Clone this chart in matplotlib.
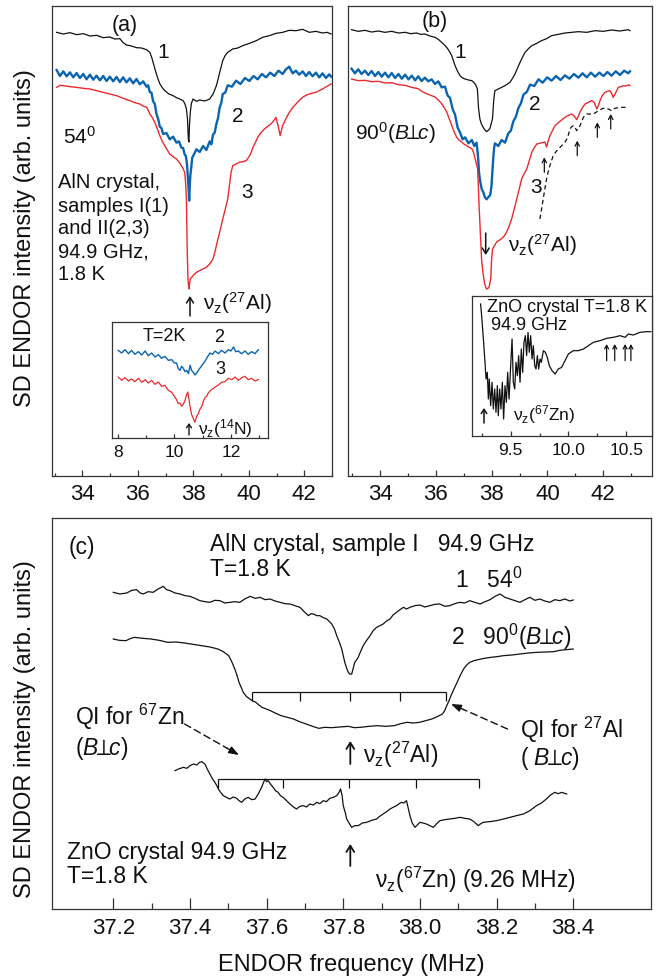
import numpy as np
import matplotlib
matplotlib.use("Agg")
import matplotlib.pyplot as plt
from matplotlib.patches import FancyArrowPatch

# ---------------- data (frequency MHz, intensity arb. units) ----------------
# panel (a): AlN, 54 deg
A1 = [(33.07,1331),(33.31,1326),(33.55,1330),(33.79,1324),(34.03,1327),(34.27,1320),(34.51,1322),(34.75,1315),
      (34.99,1317),(35.17,1311),(35.35,1312),(35.47,1300),(35.59,1293),(35.77,1290),(35.95,1285),(36.13,1284),
      (36.31,1279),(36.43,1271),(36.49,1258),(36.55,1241),(36.61,1222),(36.67,1206),(36.73,1190),(36.79,1177),
      (36.88,1165),(36.97,1156),(37.12,1146),(37.27,1141),(37.39,1135),(37.51,1131),(37.63,1126),(37.69,1118),
      (37.75,1101),(37.79,1070),(37.82,1010),(37.84,1002),(37.86,1050),(37.89,1091),(37.93,1118),(37.99,1131),
      (38.11,1124),(38.23,1128),(38.41,1125),(38.59,1131),(38.71,1146),(38.77,1158),(38.83,1171),(38.89,1190),
      (38.95,1211),(39.01,1230),(39.06,1246),(39.15,1262),(39.24,1271),(39.42,1281),(39.60,1284),(39.78,1291),
      (40.02,1298),(40.27,1306),(40.50,1316),(40.74,1321),(40.98,1328),(41.22,1331),(41.46,1337),(41.70,1336),
      (41.94,1340),(42.18,1331),(42.42,1334),(42.66,1329),(42.82,1331),(42.97,1326)]
A2 = [(33.07,1218),(33.19,1200),(33.31,1214),(33.43,1199),(33.55,1211),(33.67,1196),(33.79,1209),(33.91,1194),
      (34.03,1206),(34.15,1190),(34.27,1204),(34.39,1189),(34.51,1201),(34.63,1187),(34.75,1200),(34.87,1185),
      (34.99,1198),(35.11,1184),(35.23,1197),(35.35,1182),(35.47,1196),(35.59,1181),(35.71,1193),(35.83,1178),
      (35.95,1191),(36.07,1175),(36.19,1184),(36.31,1168),(36.37,1172),(36.43,1152),(36.49,1150),(36.55,1124),
      (36.61,1116),(36.67,1086),(36.73,1072),(36.79,1048),(36.85,1044),(36.91,1026),(37.03,1029),(37.15,1010),
      (37.27,1018),(37.39,1000),(37.48,1004),(37.57,985),(37.63,984),(37.69,964),(37.73,960),(37.77,936),
      (37.80,900),(37.83,860),(37.85,826),(37.87,870),(37.89,900),(37.93,930),(37.96,955),(38.03,966),
      (38.11,980),(38.23,972),(38.35,990),(38.47,978),(38.59,1004),(38.65,995),(38.71,1024),(38.77,1030),
      (38.83,1056),(38.89,1074),(38.95,1106),(39.01,1120),(39.06,1146),(39.15,1150),(39.24,1172),(39.39,1168),
      (39.54,1186),(39.70,1176),(39.86,1194),(40.02,1185),(40.17,1200),(40.32,1190),(40.47,1206),(40.62,1196),
      (40.77,1210),(40.92,1200),(41.07,1216),(41.22,1206),(41.34,1220),(41.46,1228),(41.58,1208),(41.70,1216),
      (41.82,1204),(41.94,1214),(42.06,1200),(42.18,1212),(42.30,1199),(42.42,1210),(42.54,1196),(42.66,1208),
      (42.78,1194),(42.90,1205),(42.97,1198)]
A3 = [(33.07,1166),(33.19,1172),(33.31,1171),(33.55,1168),(33.79,1166),(34.03,1163),(34.27,1161),(34.51,1156),
      (34.75,1151),(34.99,1146),(35.23,1141),(35.47,1133),(35.71,1126),(35.89,1120),(36.07,1116),(36.19,1110),
      (36.31,1106),(36.37,1098),(36.43,1086),(36.52,1075),(36.61,1061),(36.70,1042),(36.79,1021),(36.88,1004),
      (36.97,991),(37.06,978),(37.15,966),(37.27,958),(37.39,951),(37.48,942),(37.57,931),(37.63,922),
      (37.69,911),(37.72,880),(37.75,831),(37.78,671),(37.81,585),(37.84,561),(37.86,575),(37.89,591),
      (38.00,602),(38.11,611),(38.29,619),(38.47,626),(38.59,636),(38.71,651),(38.77,670),(38.83,691),
      (38.89,712),(38.95,731),(39.01,752),(39.06,771),(39.15,800),(39.24,831),(39.30,870),(39.36,911),
      (39.42,931),(39.54,936),(39.66,941),(39.78,943),(39.91,946),(40.03,961),(40.09,972),(40.15,986),
      (40.24,1001),(40.32,1016),(40.44,1030),(40.56,1041),(40.68,1049),(40.80,1056),(40.90,1066),(40.98,1076),
      (41.06,1050),(41.13,1021),(41.18,1038),(41.22,1051),(41.34,1072),(41.46,1091),(41.58,1105),(41.70,1116),
      (41.82,1127),(41.94,1136),(42.06,1142),(42.18,1146),(42.30,1149),(42.42,1151),(42.54,1156),(42.66,1161),
      (42.80,1168),(42.97,1176)]
# inset of (a): 14N region
IA2 = [(8.02,260),(8.14,252),(8.26,262),(8.38,250),(8.49,260),(8.61,248),(8.73,256),(8.85,246),(8.97,258),
       (9.08,244),(9.20,252),(9.32,240),(9.44,247),(9.55,236),(9.67,242),(9.79,230),(9.91,232),(10.00,222),
       (10.08,222),(10.14,205),(10.20,200),(10.26,212),(10.32,206),(10.38,196),(10.44,200),(10.50,190),
       (10.56,215),(10.61,200),(10.67,194),(10.73,186),(10.79,192),(10.85,200),(10.91,207),(10.97,214),
       (11.09,228),(11.17,240),(11.26,252),(11.35,248),(11.44,258),(11.56,250),(11.67,260),(11.79,252),
       (11.91,262),(12.00,258),(12.09,270),(12.17,256),(12.26,258),(12.38,250),(12.50,258),(12.61,248),
       (12.73,256),(12.85,250),(12.97,262)]
IA3 = [(8.02,180),(8.14,170),(8.26,178),(8.38,168),(8.49,174),(8.61,166),(8.73,176),(8.85,164),(8.97,172),
       (9.08,162),(9.20,170),(9.32,158),(9.44,165),(9.55,152),(9.67,155),(9.79,140),(9.91,134),(10.00,122),
       (10.08,112),(10.14,100),(10.20,102),(10.26,92),(10.32,98),(10.38,110),(10.44,128),(10.48,135),
       (10.52,112),(10.56,90),(10.61,68),(10.67,56),(10.73,44),(10.79,62),(10.85,70),(10.91,84),(10.97,92),
       (11.03,108),(11.09,118),(11.14,122),(11.20,132),(11.26,138),(11.32,142),(11.44,150),(11.56,156),
       (11.67,164),(11.79,166),(11.91,176),(12.03,172),(12.15,180),(12.26,170),(12.38,178),(12.50,182),
       (12.61,172),(12.73,176),(12.85,168),(12.97,172)]
# panel (b): AlN, 90 deg
B1 = [(32.98,1339),(33.22,1334),(33.46,1337),(33.70,1332),(33.94,1335),(34.18,1331),(34.42,1334),(34.66,1329),
      (34.90,1331),(35.10,1327),(35.31,1329),(35.46,1325),(35.61,1326),(35.79,1320),(35.97,1316),(36.09,1310),
      (36.21,1301),(36.30,1294),(36.39,1286),(36.48,1275),(36.57,1261),(36.63,1246),(36.69,1231),(36.78,1214),
      (36.87,1201),(36.96,1194),(37.05,1191),(37.17,1188),(37.29,1186),(37.35,1182),(37.41,1176),(37.45,1170),
      (37.49,1161),(37.51,1135),(37.53,1105),(37.58,1071),(37.64,1055),(37.70,1046),(37.76,1038),(37.82,1033),
      (37.88,1037),(37.94,1043),(37.99,1058),(38.03,1071),(38.05,1095),(38.07,1121),(38.10,1145),(38.12,1156),
      (38.24,1161),(38.36,1166),(38.48,1171),(38.57,1176),(38.66,1181),(38.75,1193),(38.84,1206),(38.93,1224),
      (39.02,1241),(39.11,1257),(39.20,1271),(39.32,1282),(39.44,1291),(39.62,1298),(39.79,1306),(39.97,1312),
      (40.15,1321),(40.39,1325),(40.63,1329),(40.87,1331),(41.11,1333),(41.41,1331),(41.71,1336),(42.00,1334),
      (42.30,1338),(42.60,1335),(42.90,1339),(42.96,1336)]
B2 = [(32.98,1222),(33.10,1208),(33.22,1220),(33.34,1206),(33.46,1216),(33.58,1203),(33.70,1215),(33.82,1200),
      (33.94,1212),(34.06,1198),(34.18,1210),(34.30,1196),(34.42,1209),(34.54,1194),(34.66,1206),(34.78,1192),
      (34.90,1204),(35.02,1190),(35.14,1201),(35.26,1187),(35.37,1199),(35.49,1185),(35.61,1195),(35.73,1184),
      (35.85,1190),(35.97,1176),(36.09,1184),(36.21,1166),(36.33,1168),(36.42,1142),(36.51,1134),(36.60,1102),
      (36.69,1084),(36.78,1046),(36.87,1030),(36.96,1010),(37.05,1016),(37.17,998),(37.29,1008),(37.38,990),
      (37.46,1000),(37.50,970),(37.52,950),(37.55,910),(37.58,890),(37.64,862),(37.70,852),(37.76,836),
      (37.82,830),(37.88,836),(37.94,842),(37.97,852),(38.00,875),(38.03,915),(38.06,955),(38.09,985),
      (38.12,998),(38.24,990),(38.36,1008),(38.48,1000),(38.60,1028),(38.69,1036),(38.78,1064),(38.87,1078),
      (38.96,1104),(39.05,1118),(39.14,1144),(39.26,1152),(39.38,1174),(39.53,1170),(39.68,1190),(39.83,1180),
      (39.99,1196),(40.15,1186),(40.31,1200),(40.47,1188),(40.63,1202),(40.79,1192),(40.95,1206),(41.11,1195),
      (41.26,1208),(41.41,1196),(41.56,1210),(41.71,1198),(41.86,1210),(42.01,1200),(42.15,1212),(42.30,1201),
      (42.45,1214),(42.60,1203),(42.75,1216),(42.90,1208),(42.96,1214)]
B3 = [(32.98,1191),(33.22,1186),(33.46,1187),(33.70,1183),(33.94,1184),(34.18,1179),(34.42,1180),(34.66,1174),
      (34.90,1172),(35.13,1166),(35.37,1162),(35.52,1153),(35.67,1147),(35.82,1142),(35.97,1137),(36.09,1128),
      (36.21,1117),(36.30,1105),(36.39,1092),(36.48,1072),(36.57,1052),(36.66,1032),(36.75,1016),(36.84,1007),
      (36.93,1002),(37.02,995),(37.11,991),(37.20,986),(37.29,982),(37.35,971),(37.41,952),(37.46,935),
      (37.50,921),(37.53,860),(37.55,811),(37.58,760),(37.60,721),(37.62,690),(37.64,651),(37.69,610),
      (37.74,582),(37.78,568),(37.82,561),(37.87,563),(37.91,567),(37.94,580),(37.97,592),(38.00,650),
      (38.02,670),(38.04,682),(38.11,692),(38.18,702),(38.27,707),(38.36,712),(38.45,720),(38.54,732),
      (38.63,750),(38.72,772),(38.81,800),(38.90,831),(38.99,861),(39.08,892),(39.17,907),(39.26,921),
      (39.35,946),(39.44,971),(39.53,985),(39.62,996),(39.76,999),(39.91,1002),(39.97,987),(40.03,1005),
      (40.09,1021),(40.18,1036),(40.27,1051),(40.45,1064),(40.63,1076),(40.75,1082),(40.87,1086),(40.96,1080),
      (41.05,1069),(41.11,1080),(41.17,1092),(41.26,1106),(41.35,1116),(41.47,1121),(41.59,1126),(41.68,1120),
      (41.77,1101),(41.83,1112),(41.89,1127),(41.97,1142),(42.06,1151),(42.15,1154),(42.24,1156),(42.30,1148),
      (42.36,1136),(42.45,1150),(42.54,1166),(42.63,1168),(42.72,1171),(42.81,1170),(42.90,1173),(42.96,1172)]
B_DASH = [(39.73,771),(39.79,800),(39.85,831),(39.91,862),(39.97,891),(40.03,913),(40.09,931),(40.15,947),
          (40.21,961),(40.30,972),(40.39,981),(40.48,988),(40.57,996),(40.65,1004),(40.73,1016),(40.77,1030),
          (40.81,1041),(40.87,1048),(40.93,1051),(40.99,1046),(41.05,1036),(41.11,1043),(41.17,1051),(41.23,1064),
          (41.29,1076),(41.35,1082),(41.41,1086),(41.53,1086),(41.65,1086),(41.74,1091),(41.83,1096),(41.92,1100),
          (42.00,1103),(42.12,1103),(42.21,1100),(42.30,1096),(42.36,1100),(42.42,1103),(42.54,1105),(42.66,1106),
          (42.78,1106),(42.90,1106)]
B_MARK_F = [39.89, 41.07, 41.79, 42.27]
B_MARK_Y = [911, 961, 1016, 1041]
# inset of (b): ZnO, 67Zn region
IB = [(9.240,395),(9.249,360),(9.264,290),(9.278,220),(9.287,170),(9.298,190),(9.307,110),(9.315,170),
      (9.327,90),(9.339,160),(9.350,80),(9.362,140),(9.373,70),(9.385,150),(9.393,60),(9.405,140),(9.416,80),
      (9.428,160),(9.439,50),(9.451,150),(9.463,100),(9.474,190),(9.486,110),(9.500,210),(9.512,290),
      (9.523,160),(9.535,140),(9.546,220),(9.558,180),(9.569,240),(9.581,160),(9.592,260),(9.604,190),
      (9.615,280),(9.627,300),(9.638,240),(9.650,310),(9.661,250),(9.673,300),(9.685,230),(9.696,270),
      (9.708,210),(9.719,200),(9.731,240),(9.742,200),(9.754,230),(9.765,220),(9.783,255),(9.800,250),
      (9.817,235),(9.834,210),(9.858,195),(9.884,185),(9.912,200),(9.941,205),(9.970,225),(9.999,245),
      (10.042,255),(10.085,255),(10.129,260),(10.172,270),(10.215,280),(10.273,285),(10.330,292),(10.388,295),
      (10.446,300),(10.489,295),(10.518,305),(10.561,302),(10.619,310),(10.676,312),(10.712,312)]
IB_MARK_F = [10.33, 10.40, 10.49, 10.54]
# panel (c)
C1 = [(37.200,950),(37.217,945),(37.235,948),(37.248,956),(37.261,958),(37.270,948),(37.278,945),(37.291,952),
      (37.304,950),(37.317,960),(37.330,968),(37.339,958),(37.348,955),(37.361,948),(37.374,945),(37.387,940),
      (37.400,938),(37.413,932),(37.426,925),(37.439,922),(37.452,920),(37.465,926),(37.478,925),(37.491,918),
      (37.504,920),(37.517,922),(37.530,920),(37.543,930),(37.557,938),(37.570,932),(37.583,935),(37.596,928),
      (37.609,930),(37.622,924),(37.635,920),(37.648,916),(37.661,915),(37.674,910),(37.687,905),(37.698,892),
      (37.709,880),(37.716,886),(37.722,885),(37.731,880),(37.739,880),(37.748,874),(37.757,870),(37.764,862),
      (37.770,855),(37.777,840),(37.783,820),(37.790,800),(37.796,780),(37.800,760),(37.804,740),(37.809,722),
      (37.813,710),(37.818,704),(37.822,705),(37.826,722),(37.830,740),(37.835,748),(37.839,755),(37.845,772),
      (37.852,790),(37.861,806),(37.870,820),(37.878,835),(37.887,845),(37.896,850),(37.904,855),(37.913,864),
      (37.922,870),(37.930,882),(37.939,890),(37.948,898),(37.957,905),(37.965,900),(37.974,905),(37.987,910),
      (38.000,912),(38.013,906),(38.026,910),(38.039,914),(38.052,915),(38.065,908),(38.078,910),(38.091,916),
      (38.104,920),(38.117,918),(38.130,925),(38.143,920),(38.157,915),(38.170,922),(38.183,928),(38.196,938),
      (38.209,945),(38.222,935),(38.235,930),(38.248,925),(38.261,920),(38.274,928),(38.287,935),(38.300,926),
      (38.313,930),(38.326,924),(38.339,920),(38.352,928),(38.365,925),(38.378,930),(38.391,924),(38.400,927)]
C2 = [(37.200,810),(37.216,806),(37.233,805),(37.244,811),(37.255,815),(37.277,812),(37.298,810),(37.320,806),
      (37.342,800),(37.364,801),(37.386,798),(37.408,794),(37.430,790),(37.452,786),(37.473,780),(37.487,772),
      (37.501,760),(37.509,742),(37.517,720),(37.523,700),(37.528,680),(37.534,664),(37.539,650),(37.547,638),
      (37.556,630),(37.564,624),(37.572,620),(37.580,612),(37.588,605),(37.599,600),(37.610,595),(37.624,587),
      (37.638,580),(37.654,575),(37.670,570),(37.686,562),(37.703,555),(37.720,548),(37.736,542),(37.752,545),
      (37.769,544),(37.791,546),(37.813,548),(37.829,544),(37.845,545),(37.867,548),(37.889,550),(37.911,548),
      (37.933,550),(37.950,556),(37.966,560),(37.983,558),(37.999,560),(38.015,565),(38.031,570),(38.045,577),
      (38.059,585),(38.065,596),(38.070,610),(38.076,625),(38.081,640),(38.089,660),(38.097,680),(38.105,700),
      (38.114,720),(38.122,732),(38.130,740),(38.141,745),(38.152,748),(38.168,752),(38.185,755),(38.201,757),
      (38.218,760),(38.240,762),(38.261,765),(38.283,768),(38.305,770),(38.327,771),(38.349,772),(38.365,776),
      (38.382,778),(38.400,780)]
C3 = [(37.361,415),(37.370,420),(37.383,425),(37.392,422),(37.400,430),(37.409,435),(37.418,432),(37.425,440),
      (37.431,442),(37.435,438),(37.439,435),(37.445,420),(37.452,405),(37.458,392),(37.465,380),(37.470,370),
      (37.474,360),(37.480,350),(37.487,340),(37.495,335),(37.504,330),(37.513,336),(37.522,332),(37.528,325),
      (37.535,320),(37.543,330),(37.552,335),(37.561,328),(37.570,330),(37.578,345),(37.587,365),(37.592,380),
      (37.596,390),(37.600,382),(37.604,385),(37.610,375),(37.617,365),(37.623,355),(37.630,350),(37.636,340),
      (37.643,335),(37.652,325),(37.661,315),(37.670,306),(37.678,300),(37.687,308),(37.696,310),(37.704,306),
      (37.713,315),(37.722,312),(37.731,320),(37.739,316),(37.748,325),(37.756,322),(37.765,332),(37.774,335),
      (37.783,340),(37.789,350),(37.793,360),(37.797,340),(37.800,310),(37.805,290),(37.809,270),(37.815,258),
      (37.822,245),(37.830,250),(37.839,250),(37.850,258),(37.861,260),(37.874,266),(37.887,270),(37.895,278),
      (37.904,285),(37.913,292),(37.922,300),(37.930,305),(37.939,310),(37.946,316),(37.952,320),(37.958,318),
      (37.965,325),(37.970,300),(37.974,280),(37.980,258),(37.987,245),(37.993,252),(38.000,260),(38.008,258),
      (38.017,255),(38.026,250),(38.035,245),(38.043,255),(38.052,265),(38.065,268),(38.078,270),(38.091,272),
      (38.104,275),(38.117,272),(38.130,270),(38.141,262),(38.152,250),(38.158,255),(38.165,260),(38.182,262),
      (38.200,265),(38.218,270),(38.235,275),(38.252,280),(38.270,285),(38.287,295),(38.304,310),(38.317,318),
      (38.330,330),(38.341,342),(38.352,350),(38.361,346),(38.370,350),(38.383,345)]
AL_QI = [37.561, 37.687, 37.817, 37.948, 38.069]
ZN_QI = [37.474, 37.643, 37.816, 37.989, 38.155]

AB_MAJOR = [34, 36, 38, 40, 42]
AB_LABELS = ["34", "36", "38", "40", "42"]
AB_MINOR = [33, 35, 37, 39, 41, 43]
IA_MAJOR = [8, 10, 12]
IA_LABELS = ["8", "10", "12"]
IA_MINOR = [9, 11, 13]
IB_MAJOR = [9.5, 10.0, 10.5]
IB_LABELS = ["9.5", "10.0", "10.5"]
IB_MINOR = [9.25, 9.75, 10.25]
C_MAJOR = [37.2, 37.4, 37.6, 37.8, 38.0, 38.2, 38.4]
C_LABELS = ["37.2", "37.4", "37.6", "37.8", "38.0", "38.2", "38.4"]
C_MINOR = [37.3, 37.5, 37.7, 37.9, 38.1, 38.3]

BLUE = "#0a64b0"
RED = "#ea2a2e"
INK = "#111111"

# ---------------- figure ----------------
plt.rcParams["font.family"] = ["Liberation Sans", "DejaVu Sans"]
plt.rcParams["mathtext.fontset"] = "custom"
plt.rcParams["mathtext.rm"] = "Liberation Sans"
plt.rcParams["mathtext.it"] = "Liberation Sans:italic"
plt.rcParams["mathtext.bf"] = "Liberation Sans:bold"
plt.rcParams["mathtext.sf"] = "Liberation Sans"

W, H = 656, 978
fig = plt.figure(figsize=(W / 100, H / 100), dpi=100)


def xy(pairs):
    a = np.array(pairs, dtype=float)
    return a[:, 0], a[:, 1]


def rect(l, t, r, b):
    return [l / W, 1 - b / H, (r - l) / W, (b - t) / H]


def P(px, py):
    return (px / W, 1 - py / H)


def T(px, py, s, size, ha="left", va="center", **kw):
    fig.text(px / W, 1 - py / H, s, fontsize=size, ha=ha, va=va, color=INK, **kw)


def arrow(x0, y0, x1, y1, lw=1.1, hw=2.5, hl=4.0, style="->"):
    fig.add_artist(FancyArrowPatch(P(x0, y0), P(x1, y1), transform=fig.transFigure,
                                   arrowstyle=f"{style},head_width={hw},head_length={hl}",
                                   lw=lw, color=INK, shrinkA=0, shrinkB=0, mutation_scale=1))


def dashed_arrow(x0, y0, x1, y1):
    xm, ym = x0 + 0.78 * (x1 - x0), y0 + 0.78 * (y1 - y0)
    fig.add_artist(FancyArrowPatch(P(x0, y0), P(xm, ym), transform=fig.transFigure,
                                   arrowstyle="-", lw=1.0, color=INK, linestyle=(0, (5, 3)),
                                   shrinkA=0, shrinkB=0, mutation_scale=1))
    fig.add_artist(FancyArrowPatch(P(xm, ym), P(x1, y1), transform=fig.transFigure,
                                   arrowstyle="-|>,head_width=2.2,head_length=6", lw=1.0, color=INK,
                                   shrinkA=0, shrinkB=0, mutation_scale=1))


def style_axis(ax, xlim, ylim, major, labels, minor, fs, lmaj, lmin, pad):
    ax.set_xlim(*xlim)
    ax.set_ylim(*ylim)
    ax.set_xticks(major)
    ax.set_xticklabels(labels)
    ax.set_xticks(minor, minor=True)
    ax.set_yticks([])
    ax.tick_params(axis="x", which="both", direction="in", bottom=True, top=False,
                   labelsize=fs, pad=pad, width=0.9, color="#333333", labelcolor=INK)
    ax.tick_params(axis="x", which="major", length=lmaj)
    ax.tick_params(axis="x", which="minor", length=lmin)
    for sp in ax.spines.values():
        sp.set_linewidth(0.9)
        sp.set_color("#333333")


def mark(ax, x, y0, y1, lw=0.9, hw=1.6, hl=3.0):
    ax.add_patch(FancyArrowPatch((x, y0), (x, y1), arrowstyle=f"->,head_width={hw},head_length={hl}",
                                 lw=lw, color=INK, shrinkA=0, shrinkB=0, mutation_scale=1))


ax_a = fig.add_axes(rect(52, 7, 332, 477))
ax_b = fig.add_axes(rect(348, 7, 652, 477))
ax_c = fig.add_axes(rect(52, 519, 651, 910))

# panel (a)
ax_a.plot(*xy(A1), color=INK, lw=0.9)
ax_a.plot(*xy(A2), color=BLUE, lw=1.7)
ax_a.plot(*xy(A3), color=RED, lw=1.0)
style_axis(ax_a, (32.903, 42.975), (0, 1410), AB_MAJOR, AB_LABELS, AB_MINOR, 16, 4.3, 2.2, 5)

# panel (b)
ax_b.plot(*xy(B1), color=INK, lw=0.9)
ax_b.plot(*xy(B2), color=BLUE, lw=1.7)
ax_b.plot(*xy(B3), color=RED, lw=1.0)
ax_b.plot(*xy(B_DASH), color=INK, lw=0.9, linestyle=(0, (3.5, 2.5)))
for f, y in zip(B_MARK_F, B_MARK_Y):
    mark(ax_b, f, y, y + 45)
style_axis(ax_b, (32.853, 43.749), (0, 1410), AB_MAJOR, AB_LABELS, AB_MINOR, 16, 4.3, 2.2, 5)

# panel (c)
ax_c.plot(*xy(C1), color=INK, lw=0.9)
ax_c.plot(*xy(C2), color=INK, lw=0.9)
ax_c.plot(*xy(C3), color=INK, lw=0.9)
ax_c.hlines(652, AL_QI[0], AL_QI[-1], color=INK, lw=0.9)
ax_c.vlines(AL_QI, 625, 652, color=INK, lw=0.9)
ax_c.hlines(390, ZN_QI[0], ZN_QI[-1], color=INK, lw=0.9)
ax_c.vlines(ZN_QI, 363, 390, color=INK, lw=0.9)
style_axis(ax_c, (37.040, 38.603), (0, 1173), C_MAJOR, C_LABELS, C_MINOR, 16, 7.7, 4.0, 6)

# insets
in_a = fig.add_axes(rect(112, 323, 268, 439))
in_a.plot(*xy(IA2), color=BLUE, lw=1.0)
in_a.plot(*xy(IA3), color=RED, lw=0.9)
style_axis(in_a, (7.799, 13.311), (-3, 345), IA_MAJOR, IA_LABELS, IA_MINOR, 12.5, 3.0, 2.0, 4)

in_b = fig.add_axes(rect(471.7, 297, 651.5, 437))
in_b.plot(*xy(IB), color=INK, lw=0.9)
for f in IB_MARK_F:
    mark(in_b, f, 225, 275, lw=0.9, hw=1.4, hl=2.6)
style_axis(in_b, (9.163, 10.718), (-1, 419), IB_MAJOR, IB_LABELS, IB_MINOR, 12.5, 3.5, 2.5, 4)

NU = r"ν$_{\mathrm{z}}$"
PERP = r"$B\!\!\perp\!\!c$"

# text panel (a)
T(125, 25, "(a)", 15.5, ha="center")
T(163, 52, "1", 15, ha="center")
T(238, 117, "2", 15, ha="center")
T(247, 192, "3", 15, ha="center")
T(63, 137, r"54$^{0}$", 15)
for py, s in zip([183, 206, 229, 252, 275],
                 ["AlN crystal,", "samples I(1)", "and II(2,3)", "94.9 GHz,", "1.8 K"]):
    T(58, py, s, 14.5)
arrow(190, 317, 190, 297)
T(203, 303, NU + r"($^{27}$Al)", 15)
T(164, 337, "T=2K", 13, ha="center")
T(219, 338, "2", 13, ha="center")
T(220, 370, "3", 13, ha="center")
arrow(189, 436, 189, 424, lw=1.0, hw=1.8, hl=2.6)
T(198, 429, NU + r"($^{14}$N)", 12.5)

# text panel (b)
T(435, 22, "(b)", 15.5, ha="center")
T(460, 53, "1", 15, ha="center")
T(535, 105, "2", 15, ha="center")
T(536, 188, "3", 15, ha="center")
T(355, 133, r"90$^{0}$(" + PERP + ")", 15)
arrow(485.7, 234, 485.7, 256)
T(508, 245, NU + r"($^{27}$Al)", 15)
T(487, 307, "ZnO crystal T=1.8 K", 13)
T(491, 325, "94.9 GHz", 13)
arrow(484, 424, 484, 409, lw=1.1, hw=2.0, hl=3.0)
T(513, 415, NU + r"($^{67}$Zn)", 12.5)

# text panel (c)
T(82, 548, "(c)", 16.5, ha="center")
T(210, 545, "AlN crystal, sample I   94.9 GHz", 16.5)
T(210, 570, "T=1.8 K", 16.5)
T(455, 580, r"1   54$^{0}$", 16.5)
T(451, 637, r"2   90$^{0}$(" + PERP + ")", 16.5)
T(75, 717, r"QI for $^{67}$Zn", 16.5)
T(75, 749, "(" + PERP + ")", 16.5)
T(520, 730, r"QI for $^{27}$Al", 16.5)
T(520, 759, "( " + PERP + ")", 16.5)
dashed_arrow(184.6, 725, 239, 756)
dashed_arrow(507.5, 730, 451, 705)
arrow(350.3, 765, 350.3, 742, lw=1.3, hw=2.8, hl=4.5)
T(363, 755, NU + r"($^{27}$Al)", 16.5)
arrow(350.3, 867, 350.3, 845, lw=1.3, hw=2.8, hl=4.5)
T(375, 880, NU + r"($^{67}$Zn) (9.26 MHz)", 16.5)
T(67, 853, "ZnO crystal 94.9 GHz", 16.5)
T(67, 877, "T=1.8 K", 16.5)

# axis labels
T(351.5, 965, "ENDOR frequency (MHz)", 17, ha="center")
T(25, 238, "SD ENDOR intensity (arb. units)", 17, ha="center", rotation=90)
T(25, 729, "SD ENDOR intensity (arb. units)", 17, ha="center", rotation=90)

fig.savefig("out.png", dpi=100)
